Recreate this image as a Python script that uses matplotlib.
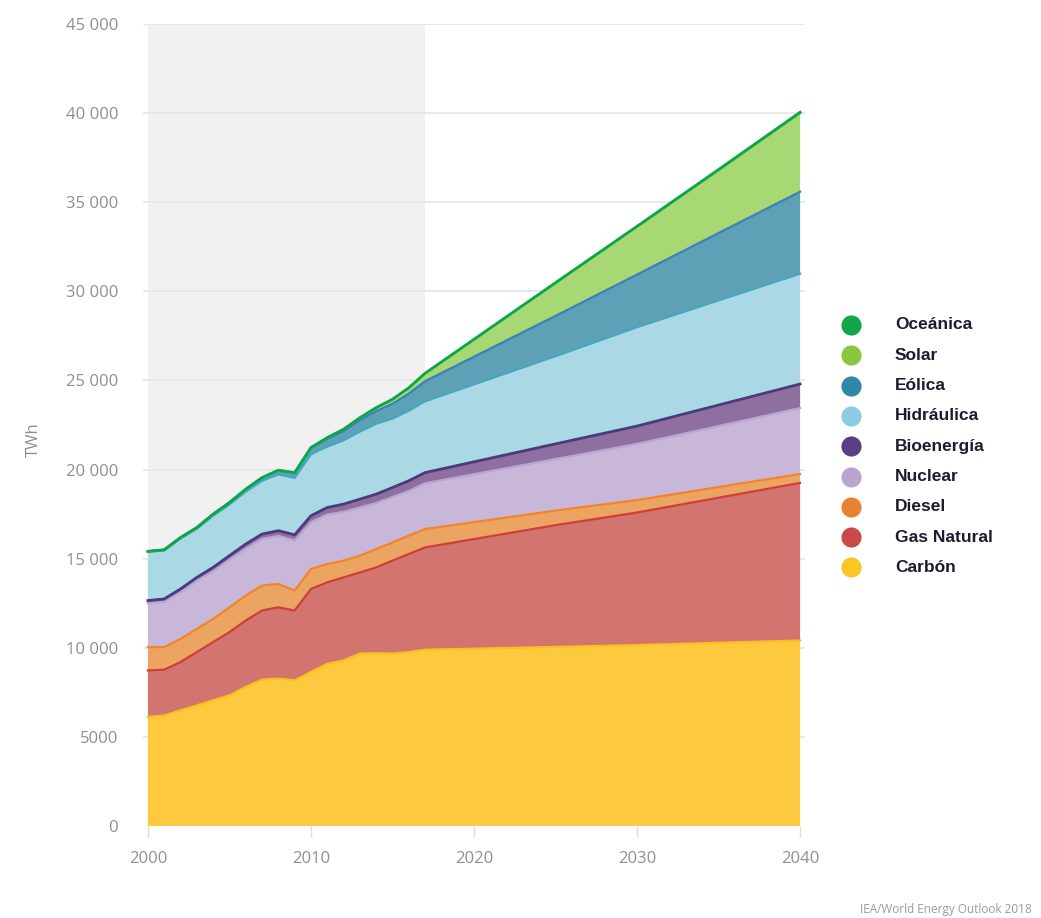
import numpy as np
import matplotlib
matplotlib.use("Agg")
import matplotlib.pyplot as plt
from matplotlib.lines import Line2D

# ---------------- data (TWh) ----------------
years = [2000, 2001, 2002, 2003, 2004, 2005, 2006, 2007, 2008, 2009, 2010,
         2011, 2012, 2013, 2014, 2015, 2016, 2017, 2025, 2030, 2035, 2040]

carbon = [6120, 6200, 6490, 6770, 7050, 7330, 7800, 8210, 8270, 8170, 8640,
          9100, 9290, 9670, 9700, 9670, 9760, 9890, 10050, 10150, 10280, 10410]
gas_natural = [2610, 2570, 2710, 2990, 3270, 3550, 3730, 3880, 4000, 3920, 4660,
               4570, 4660, 4560, 4810, 5220, 5500, 5740, 6830, 7440, 8140, 8840]
diesel = [1310, 1270, 1300, 1300, 1300, 1390, 1400, 1400, 1310, 1120, 1120,
          1030, 940, 940, 1030, 1020, 1030, 1030, 820, 700, 600, 500]
nuclear = [2460, 2540, 2625, 2700, 2680, 2670, 2640, 2620, 2700, 2820, 2630,
           2780, 2740, 2710, 2580, 2550, 2510, 2570, 2890, 3150, 3420, 3700]
bioenergia = [150, 160, 175, 190, 210, 230, 250, 270, 290, 310, 360,
              390, 430, 460, 500, 530, 570, 600, 850, 1000, 1180, 1350]
hidraulica = [2730, 2720, 2830, 2730, 2900, 2870, 2940, 2990, 3160, 3190, 3450,
              3420, 3580, 3790, 3950, 3870, 3930, 4000, 4920, 5550, 5870, 6190]
eolica = [31, 38, 52, 63, 85, 104, 132, 170, 220, 276, 342,
          437, 523, 640, 712, 831, 958, 1127, 2260, 2950, 3780, 4600]
solar = [1, 2, 3, 3, 4, 5, 6, 8, 12, 20, 32,
         63, 97, 135, 190, 250, 330, 443, 1850, 2680, 3520, 4400]
oceanica = [1, 1, 1, 1, 1, 1, 1, 1, 1, 1, 1,
            1, 1, 1, 1, 1, 1, 1, 15, 30, 45, 60]

labels = ["Carbón", "Gas Natural", "Diesel", "Nuclear", "Bioenergía",
          "Hidráulica", "Eólica", "Solar", "Oceánica"]
series = [carbon, gas_natural, diesel, nuclear, bioenergia,
          hidraulica, eolica, solar, oceanica]

fill_colors = ["#fdca3f", "#d27470", "#eca463", "#c9b7d9", "#8e6f9f",
               "#aad8e5", "#5ea1b7", "#a8d874", "#19a84f"]
edge_colors = ["#fbbf1f", "#cf3f38", "#f0862a", "#b8a6d2", "#4a3b7c",
               "#45a7c0", "#3a82b8", "#78c842", "#0aa64a"]
legend_colors = ["#f9c623", "#c94a48", "#e8822f", "#b9a6d0", "#5b3f84",
                 "#8dcbe0", "#2f88a8", "#8cc63f", "#12a54a"]

y_ticks = [0, 5000, 10000, 15000, 20000, 25000, 30000, 35000, 40000, 45000]
y_ticklabels = ["0", "5000", "10 000", "15 000", "20 000", "25 000",
                "30 000", "35 000", "40 000", "45 000"]
x_ticks = [2000, 2010, 2020, 2030, 2040]
history_end = 2017

# ---------------- figure ----------------
W, H = 1041, 918
fig = plt.figure(figsize=(W / 100, H / 100), dpi=100)
fig.patch.set_facecolor("white")

left = 143 / W
right = 805 / W
bottom = 1 - 826 / H
top = 1 - 24 / H
ax = fig.add_axes([left, bottom, right - left, top - bottom])
ax.set_xlim(1999.7, 2040.3)
ax.set_ylim(0, 45000)

# historical shading
ax.axvspan(2000, history_end, color="#f1f1f1", zorder=0, lw=0)

# grid
for yv in y_ticks[1:]:
    ax.axhline(yv, color="#e6e6e6", lw=1.3, zorder=1)

x = np.array(years, dtype=float)
data = np.array(series, dtype=float)
ax.stackplot(x, data, colors=fill_colors, lw=0, zorder=2)
tops = np.cumsum(data, axis=0)
for i in range(len(series)):
    lw = 2.0 if i in (4, 8) else 1.6
    ax.plot(x, tops[i], color=edge_colors[i], lw=lw, zorder=3,
            solid_joinstyle="round")

for s in ax.spines.values():
    s.set_visible(False)

tick_font = dict(family="Open Sans", size=12, color="#8f8f8f")
ax.set_yticks(y_ticks)
ax.set_yticklabels(y_ticklabels, **tick_font)
ax.tick_params(axis="y", length=0, pad=18)
for lab in ax.get_yticklabels():
    lab.set_horizontalalignment("right")
ax.set_xticks(x_ticks)
ax.set_xticklabels([str(v) for v in x_ticks], **tick_font)
ax.tick_params(axis="x", length=8, color="#dcdcdc", width=1, pad=10)

fig.text(34 / W, 1 - 440 / H, "TWh", rotation=90, ha="center", va="center",
         family="Open Sans", size=12, color="#8f8f8f")

# credit
fig.text(1032 / W, 1 - 909 / H, "IEA/World Energy Outlook 2018", ha="right",
         va="center", family="Open Sans", size=8.5, color="#9a9a9a")

# legend (manual, top to bottom: Oceánica ... Carbón)
leg_y0 = 325
leg_dy = 30.3
for k, i in enumerate(reversed(range(len(labels)))):
    yy = 1 - (leg_y0 + k * leg_dy) / H
    fig.add_artist(Line2D([851 / W], [yy], marker="o", markersize=14.5,
                          color=legend_colors[i], markeredgewidth=0,
                          transform=fig.transFigure))
    fig.text(895 / W, yy, labels[i], ha="left", va="center",
             family="Liberation Sans", weight="bold", size=12.5,
             color="#1c1c30")

fig.savefig("out.png", dpi=100, facecolor="white")
